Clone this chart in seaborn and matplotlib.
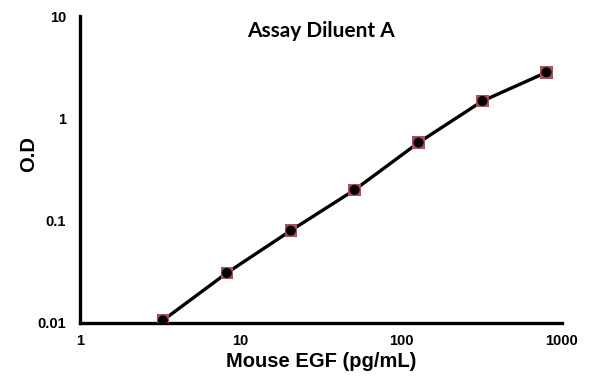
import numpy as np
import pandas as pd
import seaborn as sns
import matplotlib
matplotlib.use('Agg')
import matplotlib.pyplot as plt
from matplotlib.ticker import FixedLocator, FixedFormatter, NullLocator

# Standard curve data
conc = [3.28, 8.2, 20.5, 51.2, 128, 320, 800]
od = [0.0106, 0.0308, 0.080, 0.200, 0.58, 1.48, 2.82]

df = pd.DataFrame({'conc': conc, 'od': od})

sns.set_style('white')
plt.rcParams['font.family'] = ['Liberation Sans', 'DejaVu Sans']

fig = plt.figure(figsize=(5.95, 3.84), dpi=100)
ax = fig.add_axes([0.1345, 0.159, 0.81, 0.799])

sns.lineplot(data=df, x='conc', y='od', ax=ax, color='black', linewidth=2.4, zorder=2)
sns.scatterplot(data=df, x='conc', y='od', ax=ax, marker='s', s=80, color='#a5525a',
                edgecolor='none', zorder=3)
sns.scatterplot(data=df, x='conc', y='od', ax=ax, marker='o', s=52, color='black',
                edgecolor='none', zorder=4)

ax.set_xscale('log')
ax.set_yscale('log')
ax.set_xlim(1, 1000)
ax.set_ylim(0.01, 10)

xt = [1, 10, 100, 1000]
yt = [0.01, 0.1, 1, 10]
ax.xaxis.set_major_locator(FixedLocator(xt))
ax.xaxis.set_major_formatter(FixedFormatter(['1', '10', '100', '1000']))
ax.xaxis.set_minor_locator(NullLocator())
ax.yaxis.set_major_locator(FixedLocator(yt))
ax.yaxis.set_major_formatter(FixedFormatter(['0.01', '0.1', '1', '10']))
ax.yaxis.set_minor_locator(NullLocator())

for s in ['top', 'right']:
    ax.spines[s].set_visible(False)
for s in ['left', 'bottom']:
    ax.spines[s].set_linewidth(2.4)
    ax.spines[s].set_color('black')

ax.tick_params(axis='both', which='major', direction='out', length=3, width=2,
               color='black', labelsize=10.5, labelcolor='black')
ax.tick_params(axis='y', pad=7)
ax.tick_params(axis='x', pad=5)
for lab in ax.get_xticklabels() + ax.get_yticklabels():
    lab.set_fontweight('bold')

ax.set_xlabel('Mouse EGF (pg/mL)', fontsize=14.5, fontweight='bold', labelpad=3,
              color='black')
ax.set_ylabel('O.D', fontsize=14.5, fontweight='bold', color='black')
ax.yaxis.set_label_coords(-0.087, 0.55)
ax.text(0.5, 0.951, 'Assay Diluent A', transform=ax.transAxes, ha='center', va='center',
        fontsize=15, fontweight='bold', family=['Lato', 'DejaVu Sans'], color='black')

fig.savefig('out.png', dpi=100, facecolor='white')
